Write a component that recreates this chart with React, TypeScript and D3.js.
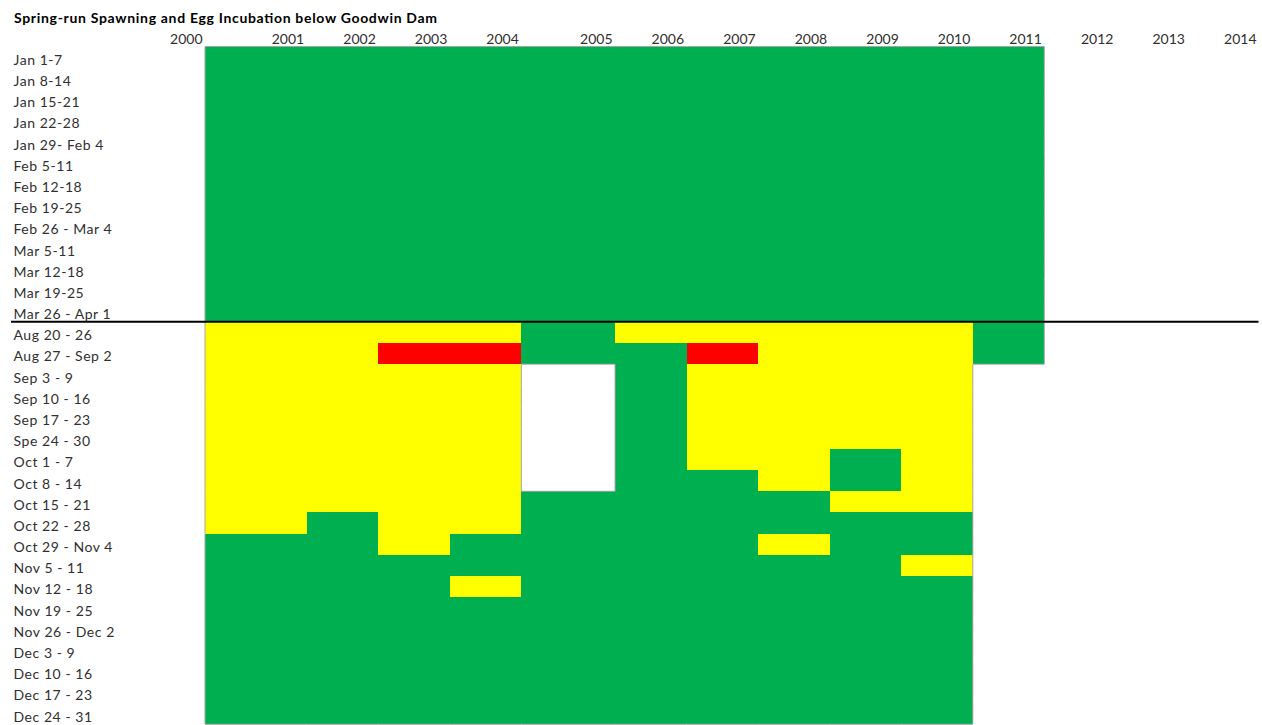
import React from "react";
import * as d3 from "d3";

// ---------- data ----------
const title = "Spring-run Spawning and Egg Incubation below Goodwin Dam";
const headerYears = [2000, 2001, 2002, 2003, 2004, 2005, 2006, 2007, 2008, 2009, 2010, 2011, 2012, 2013, 2014];
const dataYears = [2001, 2002, 2003, 2004, 2005, 2006, 2007, 2008, 2009, 2010, 2011, 2012, 2013, 2014];

const springWeeks = [
  "Jan 1-7", "Jan 8-14", "Jan 15-21", "Jan 22-28", "Jan 29- Feb 4", "Feb 5-11", "Feb 12-18",
  "Feb 19-25", "Feb 26 - Mar 4", "Mar 5-11", "Mar 12-18", "Mar 19-25", "Mar 26 - Apr 1",
];
const fallWeeks = [
  "Aug 20 - 26", "Aug 27 - Sep 2", "Sep 3 - 9", "Sep 10 - 16", "Sep 17 - 23", "Spe 24 - 30",
  "Oct 1 - 7", "Oct 8 - 14", "Oct 15 - 21", "Oct 22 - 28", "Oct 29 - Nov 4", "Nov 5 - 11",
  "Nov 12 - 18", "Nov 19 - 25", "Nov 26 - Dec 2", "Dec 3 - 9", "Dec 10 - 16", "Dec 17 - 23", "Dec 24 - 31",
];

// status per week: G = green, Y = yellow, R = red, W = blank cell, - = no entry
// one string per year in dataYears order
const springStatus = [
  "GGGGGGGGGGGGG", // 2001
  "GGGGGGGGGGGGG", // 2002
  "GGGGGGGGGGGGG", // 2003
  "GGGGGGGGGGGGG", // 2004
  "GGGGGGGGGGGGG", // 2005
  "GGGGGGGGGGGGG", // 2006
  "GGGGGGGGGGGGG", // 2007
  "GGGGGGGGGGGGG", // 2008
  "GGGGGGGGGGGGG", // 2009
  "GGGGGGGGGGGGG", // 2010
  "GGGGGGGGGGGGG", // 2011
  "-------------", // 2012
  "-------------", // 2013
  "-------------", // 2014
];
const fallStatus = [
  "YYYYYYYYYYGGGGGGGGG", // 2001
  "YYYYYYYYYGGGGGGGGGG", // 2002
  "YRYYYYYYYYYGGGGGGGG", // 2003
  "YRYYYYYYYYGGYGGGGGG", // 2004
  "GGWWWWWWGGGGGGGGGGG", // 2005
  "YGGGGGGGGGGGGGGGGGG", // 2006
  "YRYYYYYGGGGGGGGGGGG", // 2007
  "YYYYYYYYGGYGGGGGGGG", // 2008
  "YYYYYYGGYGGGGGGGGGG", // 2009
  "YYYYYYYYYGGYGGGGGGG", // 2010
  "GG-----------------", // 2011
  "-------------------", // 2012
  "-------------------", // 2013
  "-------------------", // 2014
];

// ---------- layout / style ----------
const W = 1262;
const H = 725;
const FONT = "Lato, 'Open Sans', sans-serif";
const GRID_LEFT = 205;
const COL_W = 71.55;
const WIDE_COLS: Record<number, number> = { 2001: 101.7, 2005: 93.7 };
const GRID_TOP = 46.5;
const GRID_BOTTOM = 724.3;
const COLORS: Record<string, string> = { G: "#00B050", Y: "#FFFF00", R: "#FF0000", W: "#FFFFFF" };
const FILLED = new Set(["G", "Y", "R"]);
const TEXT_COLOR = "#303030";

export default function App() {
  // piecewise x scale: year -> right edge of that year's column
  const edges: number[] = [GRID_LEFT];
  dataYears.forEach((yr) => edges.push(edges[edges.length - 1] + (WIDE_COLS[yr] ?? COL_W)));
  const x = d3.scaleLinear().domain(headerYears).range(edges);

  const allWeeks = [...springWeeks, ...fallWeeks];
  const y = d3.scaleBand<string>().domain(allWeeks).range([GRID_TOP, GRID_BOTTOM]).paddingInner(0).paddingOuter(0);

  const statusAt = (ci: number, ri: number): string => {
    if (ci < 0 || ci >= dataYears.length || ri < 0 || ri >= allWeeks.length) return "-";
    return ri < springWeeks.length ? springStatus[ci][ri] : fallStatus[ci][ri - springWeeks.length];
  };

  const cells: { key: string; x0: number; x1: number; y0: number; y1: number; code: string; ci: number; ri: number }[] = [];
  dataYears.forEach((yr, ci) => {
    allWeeks.forEach((wk, ri) => {
      const code = statusAt(ci, ri);
      if (code === "-") return;
      cells.push({
        key: `${yr}-${ri}`,
        x0: x(yr - 1),
        x1: x(yr),
        y0: y(wk)!,
        y1: y(wk)! + y.bandwidth(),
        code,
        ci,
        ri,
      });
    });
  });

  // gray borders where filled cells meet empty/blank ones
  const borders: { key: string; x1: number; y1: number; x2: number; y2: number }[] = [];
  cells.forEach((c) => {
    if (!FILLED.has(c.code)) return;
    const isFilled = (ci: number, ri: number) => FILLED.has(statusAt(ci, ri));
    if (!isFilled(c.ci - 1, c.ri)) borders.push({ key: c.key + "l", x1: c.x0, y1: c.y0, x2: c.x0, y2: c.y1 });
    if (!isFilled(c.ci + 1, c.ri)) borders.push({ key: c.key + "r", x1: c.x1, y1: c.y0, x2: c.x1, y2: c.y1 });
    if (!isFilled(c.ci, c.ri - 1)) borders.push({ key: c.key + "t", x1: c.x0, y1: c.y0, x2: c.x1, y2: c.y0 });
    if (!isFilled(c.ci, c.ri + 1)) borders.push({ key: c.key + "b", x1: c.x0, y1: c.y1, x2: c.x1, y2: c.y1 });
  });

  const dividerY = y(fallWeeks[0])!;

  return (
    <svg
      width={W}
      height={H}
      style={{ position: "absolute", left: 0, top: 0, display: "block", background: "#fff" }}
      fontFamily={FONT}
    >
      <rect x={0} y={0} width={W} height={H} fill="#fff" />
      <text
        x={14}
        y={22.7}
        fontSize={14}
        fontWeight="bold"
        fill="#000"
        textLength={423}
        lengthAdjust="spacing"
      >
        {title}
      </text>
      {headerYears.map((yr) => (
        <text key={yr} x={x(yr) - 2.5} y={44.3} fontSize={14} textAnchor="end" fill={TEXT_COLOR}>
          {yr}
        </text>
      ))}
      {cells.map((c) => (
        <rect
          key={c.key}
          x={c.x0}
          y={c.y0}
          width={c.x1 - c.x0}
          height={c.y1 - c.y0}
          fill={COLORS[c.code]}
          shapeRendering="crispEdges"
        />
      ))}
      {borders.map((b) => (
        <line key={b.key} x1={b.x1} y1={b.y1} x2={b.x2} y2={b.y2} stroke="#a6a6a6" strokeWidth={1} />
      ))}
      {allWeeks.map((wk) => (
        <text
          key={wk}
          x={13.5}
          y={y(wk)! + y.bandwidth() - 2.8}
          fontSize={14}
          letterSpacing={0.55}
          fill={TEXT_COLOR}
        >
          {wk}
        </text>
      ))}
      <line x1={11} x2={1258.5} y1={dividerY} y2={dividerY} stroke="#000" strokeWidth={2} />
    </svg>
  );
}
